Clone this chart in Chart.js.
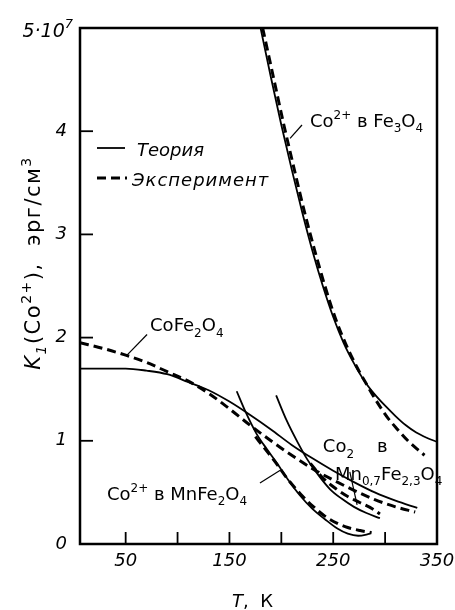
<!DOCTYPE html>
<html>
<head>
<meta charset="utf-8">
<script src="https://cdn.jsdelivr.net/npm/chart.js@4.4.1/dist/chart.umd.min.js"></script>
<style>
  html, body { margin: 0; padding: 0; background: #fff; }
  #wrap { width: 455px; height: 610px; }
</style>
</head>
<body>
<div id="wrap"><canvas id="k1-chart" width="455" height="610"></canvas></div>
<script>
// K1 of Co2+ (units of 10^7 erg/cm3) vs temperature T, K
const fe3o4TheoryT = [180, 190, 200, 210, 220, 230, 240, 250, 260, 270, 280, 290, 300, 310, 320, 330, 340, 350]
const fe3o4TheoryK = [5.0, 4.52, 4.06, 3.63, 3.22, 2.84, 2.50, 2.20, 1.95, 1.75, 1.58, 1.45, 1.34, 1.24, 1.15, 1.08, 1.03, 0.99]
const fe3o4ExpT = [182, 192, 202, 212, 222, 232, 242, 252, 262, 272, 282, 292, 302, 312, 322, 332, 338]
const fe3o4ExpK = [5.0, 4.54, 4.08, 3.65, 3.23, 2.85, 2.50, 2.19, 1.94, 1.73, 1.55, 1.38, 1.23, 1.11, 1.00, 0.91, 0.86]

const coFe2O4TheoryT = [6, 30, 50, 70, 90, 110, 130, 150, 170, 190, 210, 230, 250, 270, 290, 310, 331]
const coFe2O4TheoryK = [1.70, 1.70, 1.70, 1.68, 1.645, 1.57, 1.49, 1.38, 1.25, 1.11, 0.96, 0.83, 0.71, 0.60, 0.50, 0.42, 0.35]
const coFe2O4ExpT = [6, 30, 50, 70, 90, 110, 130, 150, 170, 190, 210, 230, 250, 270, 290, 310, 329]
const coFe2O4ExpK = [1.95, 1.89, 1.83, 1.76, 1.67, 1.58, 1.46, 1.31, 1.15, 1.00, 0.86, 0.73, 0.62, 0.52, 0.43, 0.36, 0.31]

const mnFe2O4TheoryT = [157, 166, 176, 186, 196, 206, 218, 230, 242, 254, 264, 274, 286]
const mnFe2O4TheoryK = [1.48, 1.27, 1.07, 0.92, 0.78, 0.63, 0.47, 0.34, 0.24, 0.15, 0.10, 0.08, 0.10]
const mnFe2O4ExpT = [175, 186, 196, 206, 218, 230, 242, 254, 264, 276, 287]
const mnFe2O4ExpK = [1.04, 0.90, 0.77, 0.63, 0.49, 0.37, 0.27, 0.20, 0.16, 0.13, 0.11]

const mn07TheoryT = [195, 205, 216, 225, 237, 247, 258, 270, 282, 295]
const mn07TheoryK = [1.44, 1.20, 0.98, 0.82, 0.65, 0.53, 0.44, 0.36, 0.30, 0.25]
const mn07ExpT = [228, 240, 252, 264, 276, 288, 295]
const mn07ExpK = [0.78, 0.64, 0.54, 0.46, 0.40, 0.34, 0.29]

// axes
const xMarks = [50, 100, 150, 200, 250, 300]
const xLabels = [50, 150, 250, 350]
const yMarks = [1, 2, 3, 4]
const yLabels = [0, 1, 2, 3, 4]

const FONT = '"DejaVu Sans", sans-serif'

function toPoints(ts, ks) {
    return ts.map((t, i) => ({ x: t, y: ks[i] }))
}

function series(ts, ks, dashed) {
    return {
        data: toPoints(ts, ks),
        borderColor: '#000',
        borderWidth: dashed ? 3 : 1.8,
        borderDash: dashed ? [9, 5] : [],
        pointRadius: 0,
        fill: false,
        cubicInterpolationMode: 'monotone'
    }
}

// text made of runs: {t, it, s: 'sub' | 'sup'}
function runsWidth(ctx, runs, size) {
    let w = 0
    runs.forEach(r => {
        const sz = r.s ? Math.round(size * 0.66) : size
        ctx.font = (r.it ? 'italic ' : '') + sz + 'px ' + FONT
        w += ctx.measureText(r.t).width
    })
    return w
}

function drawRuns(ctx, x, y, runs, size) {
    runs.forEach(r => {
        const sz = r.s ? Math.round(size * 0.66) : size
        const dy = r.s === 'sub' ? size * 0.3 : r.s === 'sup' ? -size * 0.45 : 0
        ctx.font = (r.it ? 'italic ' : '') + sz + 'px ' + FONT
        ctx.fillText(r.t, x, y + dy)
        x += ctx.measureText(r.t).width
    })
}

// curve labels: text start (T, K) and leader line from/to (T, K)
const curveLabels = [
    { at: [227.6, 4.04], line: [[208.4, 3.93], [219.9, 4.06]],
      runs: [{ t: 'Co' }, { t: '2+', s: 'sup' }, { t: ' в Fe' }, { t: '3', s: 'sub' }, { t: 'O' }, { t: '4', s: 'sub' }] },
    { at: [73.5, 2.06], line: [[51.3, 1.83], [70.6, 2.03]],
      runs: [{ t: 'CoFe' }, { t: '2', s: 'sub' }, { t: 'O' }, { t: '4', s: 'sub' }] },
    { at: [32, 0.43], line: [[179.4, 0.59], [199.7, 0.72]],
      runs: [{ t: 'Co' }, { t: '2+', s: 'sup' }, { t: ' в MnFe' }, { t: '2', s: 'sub' }, { t: 'O' }, { t: '4', s: 'sub' }] },
    { at: [240, 0.89], line: [[266, 0.70], [273, 0.38]],
      runs: [{ t: 'Co' }, { t: '2', s: 'sub' }, { t: '    в' }] },
    { at: [251.7, 0.62], line: null,
      runs: [{ t: 'Mn' }, { t: '0,7', s: 'sub' }, { t: 'Fe' }, { t: '2,3', s: 'sub' }, { t: 'O' }, { t: '4', s: 'sub' }] }
]

const decorations = {
    id: 'decorations',
    afterDraw(chart) {
        const { ctx, chartArea: a, scales: { x, y } } = chart
        ctx.save()
        ctx.strokeStyle = '#000'
        ctx.fillStyle = '#000'

        // frame
        ctx.lineWidth = 2.5
        ctx.strokeRect(a.left, a.top, a.right - a.left, a.bottom - a.top)

        // inward tick marks
        ctx.lineWidth = 1.8
        xMarks.forEach(v => {
            const px = x.getPixelForValue(v)
            ctx.beginPath()
            ctx.moveTo(px, a.bottom)
            ctx.lineTo(px, a.bottom - 12)
            ctx.stroke()
        })
        yMarks.forEach(v => {
            const py = y.getPixelForValue(v)
            ctx.beginPath()
            ctx.moveTo(a.left, py)
            ctx.lineTo(a.left + 13, py)
            ctx.stroke()
        })

        // tick labels
        ctx.font = 'italic 18px ' + FONT
        ctx.textAlign = 'center'
        ctx.textBaseline = 'middle'
        xLabels.forEach(v => ctx.fillText(String(v), x.getPixelForValue(v), a.bottom + 17))
        ctx.textAlign = 'right'
        yLabels.forEach(v => ctx.fillText(String(v), a.left - 13, y.getPixelForValue(v)))

        ctx.textAlign = 'left'
        ctx.textBaseline = 'alphabetic'
        const topRuns = [{ t: '5·10', it: true }, { t: '7', it: true, s: 'sup' }]
        const tw = runsWidth(ctx, topRuns, 19)
        drawRuns(ctx, a.left - 7 - tw, y.getPixelForValue(5) + 9, topRuns, 19)

        // axis titles
        const xt = [{ t: 'T', it: true }, { t: ',  К' }]
        const xw = runsWidth(ctx, xt, 18)
        drawRuns(ctx, (a.left + a.right) / 2 - 6 - xw / 2, a.bottom + 63, xt, 18)

        const yt = [{ t: 'K', it: true }, { t: '1', it: true, s: 'sub' }, { t: '(Co' }, { t: '2+', s: 'sup' },
                    { t: '),  эрг/см' }, { t: '3', s: 'sup' }]
        ctx.save()
        ctx.translate(40, 263)
        ctx.rotate(-Math.PI / 2)
        ctx.letterSpacing = '1.5px'
        const yw = runsWidth(ctx, yt, 21)
        drawRuns(ctx, -yw / 2, 0, yt, 21)
        ctx.restore()

        // curve labels and leader lines
        ctx.lineWidth = 1.2
        curveLabels.forEach(c => {
            drawRuns(ctx, x.getPixelForValue(c.at[0]), y.getPixelForValue(c.at[1]), c.runs, 18)
            if (c.line) {
                ctx.beginPath()
                ctx.moveTo(x.getPixelForValue(c.line[0][0]), y.getPixelForValue(c.line[0][1]))
                ctx.lineTo(x.getPixelForValue(c.line[1][0]), y.getPixelForValue(c.line[1][1]))
                ctx.stroke()
            }
        })

        // legend
        const lx = a.left + 17
        ctx.lineWidth = 1.8
        ctx.beginPath()
        ctx.moveTo(lx, 148)
        ctx.lineTo(lx + 28, 148)
        ctx.stroke()
        ctx.lineWidth = 3
        ctx.setLineDash([9, 5])
        ctx.beginPath()
        ctx.moveTo(lx, 178)
        ctx.lineTo(lx + 30, 178)
        ctx.stroke()
        ctx.setLineDash([])
        ctx.font = 'italic 18px ' + FONT
        ctx.fillText('Теория', lx + 40, 156)
        ctx.letterSpacing = '1px'
        ctx.fillText('Эксперимент', lx + 35, 186)
        ctx.letterSpacing = '0px'

        ctx.restore()
    }
}

const ctx = document.getElementById('k1-chart')
new Chart(ctx, {
    type: 'line',
    data: {
        datasets: [
            series(fe3o4TheoryT, fe3o4TheoryK, false),
            series(fe3o4ExpT, fe3o4ExpK, true),
            series(coFe2O4TheoryT, coFe2O4TheoryK, false),
            series(coFe2O4ExpT, coFe2O4ExpK, true),
            series(mnFe2O4TheoryT, mnFe2O4TheoryK, false),
            series(mnFe2O4ExpT, mnFe2O4ExpK, true),
            series(mn07TheoryT, mn07TheoryK, false),
            series(mn07ExpT, mn07ExpK, true)
        ]
    },
    options: {
        responsive: false,
        animation: false,
        layout: { padding: { left: 80, right: 18, top: 28, bottom: 66 } },
        scales: {
            x: { type: 'linear', min: 6, max: 350, display: false },
            y: { type: 'linear', min: 0, max: 5, display: false }
        },
        plugins: {
            legend: { display: false },
            tooltip: { enabled: false }
        }
    },
    plugins: [decorations]
})
</script>
</body>
</html>
